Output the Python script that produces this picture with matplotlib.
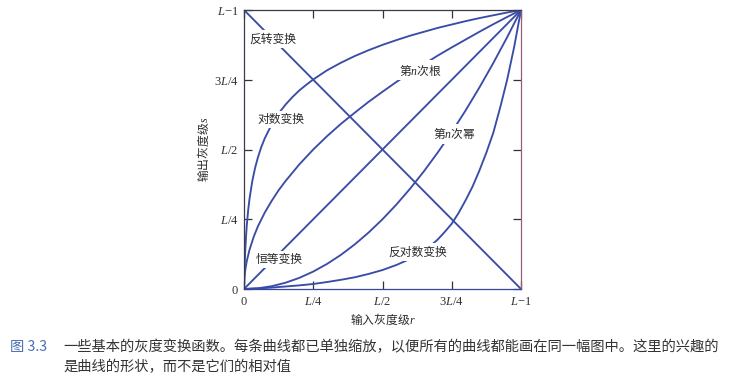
import matplotlib
matplotlib.use("Agg")
import matplotlib.pyplot as plt

# -----------------------------------
# Fonts
# -----------------------------------

plt.rcParams["font.family"] = ["Noto Sans CJK SC", "DejaVu Sans"]
plt.rcParams["mathtext.fontset"] = "custom"
plt.rcParams["mathtext.rm"] = "Liberation Serif"
plt.rcParams["mathtext.it"] = "Liberation Serif:italic"

# -----------------------------------
# Data (normalised: 0 .. L-1 -> 0 .. 1)
# -----------------------------------

tick_pos = [0, 0.25, 0.5, 0.75, 1.0]
tick_labels = [r"$0$", r"$L/4$", r"$L/2$", r"$3L/4$", r"$L{-}1$"]

identity_r = [0, 1.0]
identity_s = [0, 1.0]

negative_r = [0, 1.0]
negative_s = [1.0, 0]

log_r = [0, 0.002, 0.003, 0.005, 0.0075, 0.01, 0.015, 0.02, 0.03, 0.04,
         0.05, 0.0625, 0.075, 0.1, 0.125, 0.15, 0.175, 0.2, 0.225, 0.25,
         0.3, 0.35, 0.4, 0.45, 0.5, 0.55, 0.6, 0.65, 0.7, 0.75, 0.8, 0.85,
         0.9, 0.95, 1.0]
log_s = [0, 0.073, 0.101, 0.147, 0.191, 0.227, 0.282, 0.324, 0.387, 0.434,
         0.471, 0.509, 0.540, 0.590, 0.629, 0.661, 0.688, 0.712, 0.732, 0.751,
         0.784, 0.811, 0.835, 0.856, 0.875, 0.892, 0.908, 0.922, 0.936, 0.948,
         0.960, 0.971, 0.981, 0.991, 1.0]

root_r = [0, 0.002, 0.005, 0.01, 0.02, 0.035, 0.05, 0.075, 0.1, 0.125,
          0.15, 0.2, 0.25, 0.3, 0.35, 0.4, 0.45, 0.5, 0.55, 0.6, 0.65, 0.7,
          0.75, 0.8, 0.85, 0.9, 0.95, 1.0]
root_s = [0, 0.045, 0.071, 0.1, 0.141, 0.187, 0.224, 0.274, 0.316, 0.354,
          0.387, 0.447, 0.5, 0.548, 0.592, 0.632, 0.671, 0.707, 0.742, 0.775,
          0.806, 0.837, 0.866, 0.894, 0.922, 0.949, 0.975, 1.0]

power_r = [0, 0.05, 0.1, 0.15, 0.2, 0.25, 0.3, 0.35, 0.4, 0.45, 0.5, 0.55,
           0.6, 0.65, 0.7, 0.75, 0.8, 0.85, 0.9, 0.95, 1.0]
power_s = [0, 0.0025, 0.01, 0.0225, 0.04, 0.0625, 0.09, 0.1225, 0.16,
           0.2025, 0.25, 0.3025, 0.36, 0.4225, 0.49, 0.5625, 0.64, 0.7225,
           0.81, 0.9025, 1.0]

invlog_r = [0, 0.05, 0.1, 0.15, 0.2, 0.25, 0.3, 0.35, 0.4, 0.45, 0.5, 0.55,
            0.6, 0.625, 0.65, 0.675, 0.7, 0.725, 0.75, 0.775, 0.8, 0.825,
            0.85, 0.875, 0.9, 0.925, 0.95, 0.975, 1.0]
invlog_s = [0, 0.002, 0.005, 0.009, 0.013, 0.018, 0.025, 0.033, 0.042,
            0.054, 0.068, 0.086, 0.108, 0.121, 0.138, 0.156, 0.178, 0.205,
            0.234, 0.273, 0.318, 0.367, 0.425, 0.489, 0.56, 0.651, 0.75,
            0.866, 1.0]

curve_labels = [
    ("反转变换", 0.104, 0.896),
    ("对数变换", 0.135, 0.608),
    ("第$n$次根", 0.638, 0.785),
    ("第$n$次幂", 0.758, 0.556),
    ("恒等变换", 0.126, 0.107),
    ("反对数变换", 0.628, 0.133),
]

caption_1 = "一些基本的灰度变换函数。每条曲线都已单独缩放，以便所有的曲线都能画在同一幅图中。这里的兴趣的"
caption_2 = "是曲线的形状，而不是它们的相对值"

# -----------------------------------
# Plot
# -----------------------------------

fig = plt.figure(figsize=(7.38, 3.84), dpi=100)
ax = fig.add_axes([244 / 738, 1 - 289 / 384, 277 / 738, 279 / 384])

blue = "#3a4da6"
lw = 1.35

for r, s in [(identity_r, identity_s), (negative_r, negative_s),
             (log_r, log_s), (root_r, root_s),
             (power_r, power_s), (invlog_r, invlog_s)]:
    ax.plot(r, s, color=blue, linewidth=lw, solid_capstyle="round",
            solid_joinstyle="round", zorder=2)

for text, x, y in curve_labels:
    ax.text(x, y, text, fontsize=8.5, color="#2a2a2a", ha="center", va="center",
            zorder=3,
            bbox=dict(facecolor="white", edgecolor="none", pad=1.5))

ax.set_xlim(0, 1)
ax.set_ylim(0, 1)
ax.set_xticks(tick_pos)
ax.set_yticks(tick_pos)
ax.set_xticklabels(tick_labels)
ax.set_yticklabels(tick_labels)

ax.tick_params(axis="both", direction="in", length=6, width=0.9,
               color="#333333", labelsize=9, labelcolor="#333333",
               top=True, right=True, pad=4)

ax.spines["left"].set_color("#3a3a4a")
ax.spines["top"].set_color("#3a3a4a")
ax.spines["right"].set_color("#9a5a7a")
ax.spines["bottom"].set_color("#3545a0")
for spine in ax.spines.values():
    spine.set_linewidth(0.9)

ax.set_xlabel("输入灰度级$r$", fontsize=8.5, color="#2a2a2a")
ax.set_ylabel("输出灰度级$s$", fontsize=8.5, color="#2a2a2a")
ax.xaxis.set_label_coords(0.5, -0.082)
ax.yaxis.set_label_coords(-0.119, 0.5)

# -----------------------------------
# Caption
# -----------------------------------

fig.text(10 / 738, 1 - 347 / 384, "图 3.3", fontsize=10.3, color="#4a6db3",
         va="center", ha="left")
fig.text(63 / 738, 1 - 347 / 384, caption_1, fontsize=10.3, color="#333333",
         va="center", ha="left")
fig.text(63 / 738, 1 - 367 / 384, caption_2, fontsize=10.3, color="#333333",
         va="center", ha="left")

fig.savefig("out.png", dpi=100)
plt.close(fig)
